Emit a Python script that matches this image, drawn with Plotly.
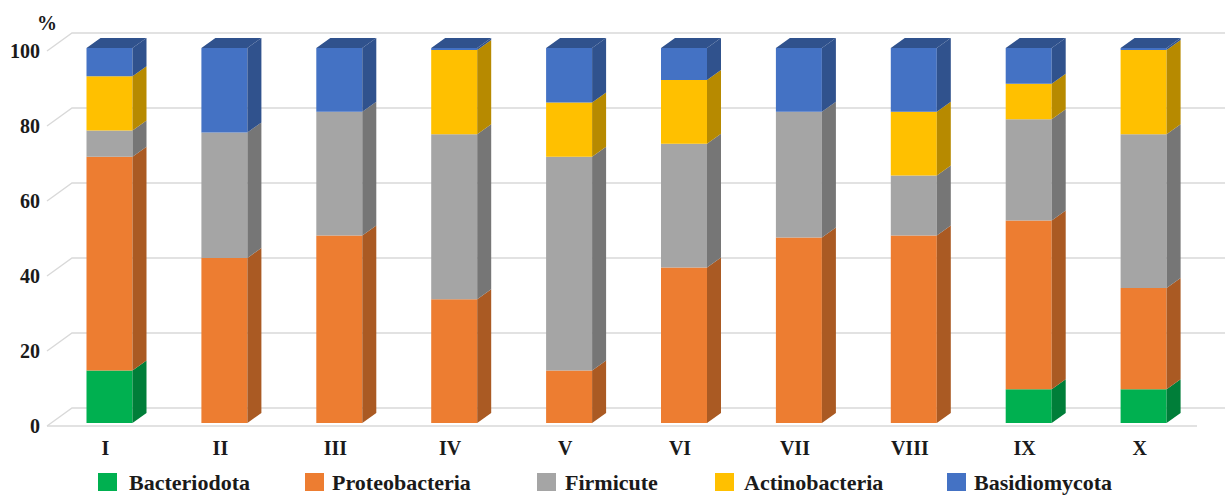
import plotly.graph_objects as go

# ---------------- data ----------------
categories = ["I", "II", "III", "IV", "V", "VI", "VII", "VIII", "IX", "X"]
bacteriodota = [14, 0, 0, 0, 0, 0, 0, 0, 9, 9]
proteobacteria = [57, 44, 50, 33, 14, 41.5, 49.5, 50, 45, 27]
firmicute = [7, 33.5, 33, 44, 57, 33, 33.5, 16, 27, 41]
actinobacteria = [14.5, 0, 0, 22.5, 14.5, 17, 0, 17, 9.5, 22.5]
basidiomycota = [7.5, 22.5, 17, 0.5, 14.5, 8.5, 17, 17, 9.5, 0.5]
series_names = ["Bacteriodota", "Proteobacteria", "Firmicute", "Actinobacteria", "Basidiomycota"]
y_ticks = [0, 20, 40, 60, 80, 100]

# ---------------- style ----------------
series_values = [bacteriodota, proteobacteria, firmicute, actinobacteria, basidiomycota]
front_colors = ["#00B050", "#ED7D31", "#A5A5A5", "#FFC000", "#4472C4"]


def shade(hexc, f):
    h = hexc.lstrip("#")
    r, g, b = (int(h[i:i + 2], 16) for i in (0, 2, 4))
    return "rgb(%d,%d,%d)" % (int(r * f), int(g * f), int(b * f))


side_colors = [shade(c, 0.72) for c in front_colors]
top_colors = [shade(c, 0.72) for c in front_colors]

W, H = 1225, 495
ML, MR, MT, MB = 45, 0, 10, 63
PW, PH = W - ML - MR, H - MT - MB
PX_X = 114.9     # px per category
PX_Y = 3.75      # px per percent
X0PX = 105.5     # pixel of category 0 (front plane)
Y0PX = 426       # pixel of value 0 (front plane)


def idx(px):
    return (px - X0PX) / PX_X


def ox(px):
    return px / PX_X


def oy(px):
    return px / PX_Y


def pxp(px):  # pixel x -> paper x
    return (px - ML) / PW


def pyp(py):  # pixel y (from top) -> paper y
    return (H - MB - py) / PH


BAR_W = 46 / PX_X
FR = (4, 3)      # bar front face offset (px right, px up)
BK = (18, 13)    # bar back face offset
WL = (25, 18)    # back wall offset

FONT = "Liberation Serif"
TXT = "#1a1a1a"
GRID = "#D9D9D9"

x_range = [idx(ML), idx(W - MR)]
y_range = [(Y0PX - (H - MB)) / PX_Y, (Y0PX - MT) / PX_Y]

fig = go.Figure()
xs = list(range(len(categories)))

# front faces (bars)
cum = [0.0] * len(categories)
bases = []
for s, vals in enumerate(series_values):
    bases.append(cum[:])
    fig.add_trace(go.Bar(
        x=[i + ox(FR[0]) for i in xs], y=vals,
        base=[c + oy(FR[1]) for c in cum],
        width=BAR_W, marker=dict(color=front_colors[s], line=dict(width=0)),
        name=series_names[s], showlegend=False, hoverinfo="skip"))
    cum = [c + v for c, v in zip(cum, vals)]

# side faces
for s, vals in enumerate(series_values):
    px_, py_ = [], []
    for i in xs:
        v = vals[i]
        if v <= 0:
            continue
        b = bases[s][i]
        t = b + v
        xr = i + ox(FR[0]) + BAR_W / 2
        xb = xr + ox(BK[0] - FR[0])
        px_ += [xr, xb, xb, xr, xr, None]
        py_ += [b + oy(FR[1]), b + oy(BK[1]), t + oy(BK[1]), t + oy(FR[1]), b + oy(FR[1]), None]
    fig.add_trace(go.Scatter(x=px_, y=py_, mode="lines", fill="toself",
                             fillcolor=side_colors[s], line=dict(width=0, color=side_colors[s]),
                             showlegend=False, hoverinfo="skip"))

# top faces (colour of topmost non-zero segment)
for s in range(len(series_values)):
    px_, py_ = [], []
    for i in xs:
        top_s = max(k for k in range(len(series_values)) if series_values[k][i] > 0)
        if top_s != s:
            continue
        T = cum[i]
        xl = i + ox(FR[0]) - BAR_W / 2
        xr = xl + BAR_W
        d = ox(BK[0] - FR[0])
        px_ += [xl, xr, xr + d, xl + d, xl, None]
        py_ += [T + oy(FR[1]), T + oy(FR[1]), T + oy(BK[1]), T + oy(BK[1]), T + oy(FR[1]), None]
    if px_:
        fig.add_trace(go.Scatter(x=px_, y=py_, mode="lines", fill="toself",
                                 fillcolor=top_colors[s], line=dict(width=0, color=top_colors[s]),
                                 showlegend=False, hoverinfo="skip"))

# gridlines on back wall + left diagonals
shapes = []
for v in y_ticks:
    xa, xb_, xc = idx(47), idx(47 + WL[0]), x_range[1]
    yw = v + oy(WL[1])
    shapes.append(dict(type="path", xref="x", yref="y", layer="below",
                       path="M %f,%f L %f,%f L %f,%f" % (xa, v, xb_, yw, xc, yw),
                       line=dict(color=GRID, width=1.4)))
# floor front edge
shapes.append(dict(type="line", xref="x", yref="y", layer="below",
                   x0=idx(47), y0=0, x1=idx(1197), y1=0, line=dict(color=GRID, width=1.4)))

# manual legend (paper coordinates, below the plot area)
leg_sq = [98, 305, 537, 715, 947]
leg_tx = [127, 330, 563, 742, 972]
LEG_Y = 482
annotations = []
for s in range(len(series_names)):
    shapes.append(dict(type="rect", xref="paper", yref="paper",
                       x0=pxp(leg_sq[s]), x1=pxp(leg_sq[s] + 19),
                       y0=pyp(LEG_Y + 9), y1=pyp(LEG_Y - 9),
                       fillcolor=front_colors[s], line=dict(width=0)))
    annotations.append(dict(x=pxp(leg_tx[s]), y=pyp(LEG_Y), xref="paper", yref="paper",
                            text="<b>%s</b>" % series_names[s], showarrow=False,
                            xanchor="left", yanchor="middle",
                            font=dict(family=FONT, size=22, color=TXT)))
annotations.append(dict(x=pxp(47), y=pyp(23), xref="paper", yref="paper", text="<b>%</b>",
                        showarrow=False, xanchor="center", yanchor="middle",
                        font=dict(family=FONT, size=20, color=TXT)))

fig.update_layout(
    width=W, height=H, margin=dict(l=ML, r=MR, t=MT, b=MB),
    paper_bgcolor="white", plot_bgcolor="white",
    barmode="overlay", showlegend=False,
    shapes=shapes, annotations=annotations,
    xaxis=dict(range=x_range, tickvals=xs, ticktext=["<b>%s</b>" % c for c in categories],
               showgrid=False, zeroline=False, showline=False, ticks="", ticklabelstandoff=2,
               tickfont=dict(family=FONT, size=20, color=TXT)),
    yaxis=dict(range=y_range, tickvals=y_ticks, ticktext=["<b>%d</b>" % v for v in y_ticks],
               showgrid=False, zeroline=False, showline=False, ticks="", ticklabelstandoff=4,
               tickfont=dict(family=FONT, size=20, color=TXT)),
)

fig.write_html("out.html")
